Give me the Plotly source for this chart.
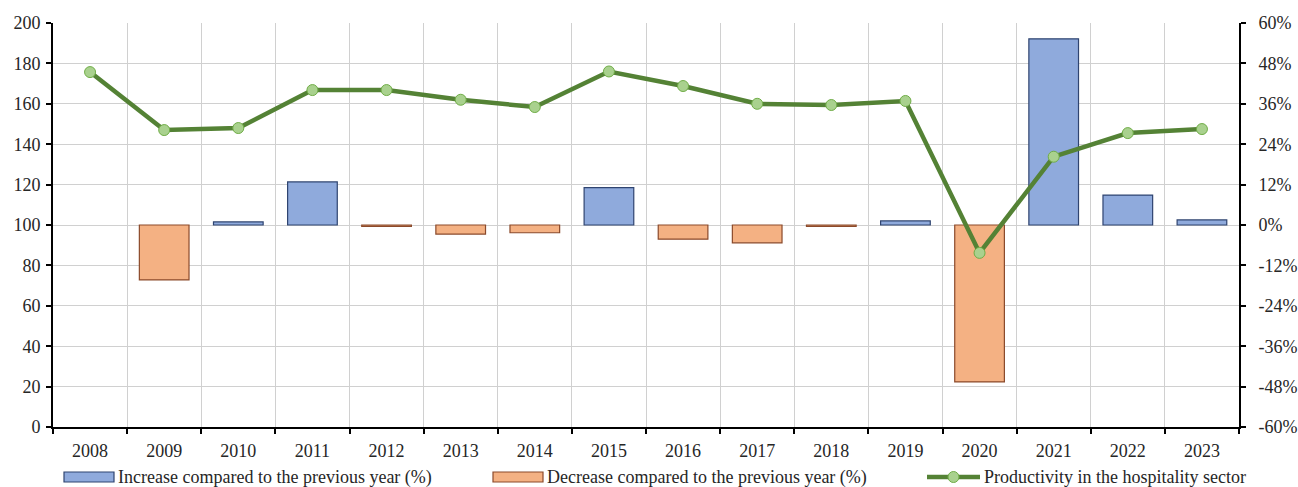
import plotly.graph_objects as go

years = [str(y) for y in range(2008, 2024)]

# Productivity index (left axis)
productivity = [175.7, 147.0, 148.0, 166.8, 166.8, 162.0, 158.4, 176.0,
                168.8, 160.0, 159.4, 161.4, 86.2, 133.8, 145.5, 147.5]

# Year-on-year change in % (right axis)
increase = [None, None, 0.9, 12.8, None, None, None, 11.1,
            None, None, None, 1.2, None, 55.3, 8.9, 1.5]
decrease = [None, -16.3, None, None, -0.4, -2.7, -2.3, None,
            -4.2, -5.3, -0.4, None, -46.6, None, None, None]

left_ticks = list(range(0, 201, 20))
right_ticks = list(range(-60, 61, 12))
right_ticktext = [f"{v}%" for v in right_ticks]

names = ["Increase compared to the previous year (%)",
         "Decrease compared to the previous year (%)",
         "Productivity in the hospitality sector"]

font_family = "'Liberation Serif', 'Times New Roman', serif"
text_color = "#262626"
tick_font = dict(family=font_family, size=18, color=text_color)
blue, blue_edge = "#8FAADC", "#2F4470"
orange, orange_edge = "#F4B183", "#8B4A2B"
green, green_light, green_edge = "#548235", "#A9D18E", "#70AD47"

# plot-area geometry in pixels
W, H = 1298, 487
ML, MR, MT, MB = 53, 59, 23, 60
PW, PH = W - ML - MR, H - MT - MB


def px_x(x):
    return (x - ML) / PW


def px_y(y):
    return (H - MB - y) / PH


fig = go.Figure()

fig.add_trace(go.Bar(
    x=years, y=increase, name=names[0],
    marker=dict(color=blue, line=dict(color=blue_edge, width=1.2)),
    width=0.67, yaxis="y", showlegend=False,
))
fig.add_trace(go.Bar(
    x=years, y=decrease, name=names[1],
    marker=dict(color=orange, line=dict(color=orange_edge, width=1.2)),
    width=0.67, yaxis="y", showlegend=False,
))
fig.add_trace(go.Scatter(
    x=years, y=productivity, name=names[2],
    mode="lines+markers",
    line=dict(color=green, width=4.5),
    marker=dict(size=11, color=green_light, line=dict(color=green_edge, width=1)),
    yaxis="y2", showlegend=False,
))

# legend row below the axis
legend_y = 477
shapes = [
    dict(type="rect", xref="paper", yref="paper",
         x0=px_x(64), x1=px_x(114), y0=px_y(legend_y + 5), y1=px_y(legend_y - 5),
         fillcolor=blue, line=dict(color=blue_edge, width=1.2)),
    dict(type="rect", xref="paper", yref="paper",
         x0=px_x(493), x1=px_x(543), y0=px_y(legend_y + 5), y1=px_y(legend_y - 5),
         fillcolor=orange, line=dict(color=orange_edge, width=1.2)),
    dict(type="line", xref="paper", yref="paper",
         x0=px_x(927), x1=px_x(980), y0=px_y(legend_y), y1=px_y(legend_y),
         line=dict(color=green, width=4.5)),
    dict(type="circle", xref="paper", yref="paper",
         x0=px_x(948), x1=px_x(959), y0=px_y(legend_y + 5.5), y1=px_y(legend_y - 5.5),
         fillcolor=green_light, line=dict(color=green_edge, width=1)),
]
annotations = [
    dict(text=names[0], x=px_x(116), y=px_y(legend_y), xref="paper", yref="paper",
         xanchor="left", yanchor="middle", showarrow=False),
    dict(text=names[1], x=px_x(545), y=px_y(legend_y), xref="paper", yref="paper",
         xanchor="left", yanchor="middle", showarrow=False),
    dict(text=names[2], x=px_x(982), y=px_y(legend_y), xref="paper", yref="paper",
         xanchor="left", yanchor="middle", showarrow=False),
]

axis_line = dict(showline=True, linecolor="black", linewidth=2,
                 ticks="outside", ticklen=5, tickcolor="black", tickwidth=2,
                 tickfont=tick_font, automargin=False)

fig.update_layout(
    width=W, height=H,
    margin=dict(l=ML, r=MR, t=MT, b=MB),
    paper_bgcolor="white", plot_bgcolor="white",
    barmode="overlay",
    font=dict(family=font_family, size=18, color=text_color),
    shapes=shapes,
    annotations=annotations,
    xaxis=dict(
        type="category", tickson="boundaries", range=[-0.5, 15.5],
        showgrid=True, gridcolor="#D0D0D0", gridwidth=1,
        ticklabelstandoff=6,
        **axis_line,
    ),
    yaxis=dict(
        side="right", range=[-60, 60],
        tickvals=right_ticks, ticktext=right_ticktext,
        zeroline=False, ticklabelstandoff=9,
        showgrid=True, gridcolor="#D0D0D0", gridwidth=1,
        **axis_line,
    ),
    yaxis2=dict(
        side="left", overlaying="y", range=[0, 200],
        tickvals=left_ticks,
        showgrid=False, zeroline=False, ticklabelstandoff=2,
        **axis_line,
    ),
)

fig.write_html("out.html")
